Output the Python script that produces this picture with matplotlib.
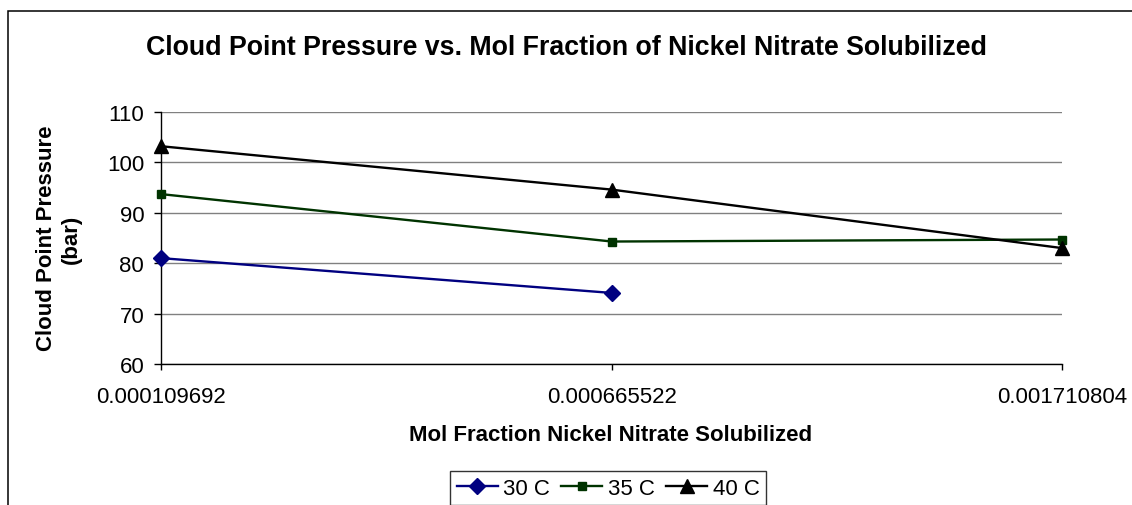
import matplotlib
matplotlib.use("Agg")
import matplotlib.pyplot as plt
from matplotlib.patches import Rectangle

categories = ["0.000109692", "0.000665522", "0.001710804"]
s30 = [81.0, 74.1]
s35 = [93.7, 84.3, 84.7]
s40 = [103.2, 94.6, 83.0]
series_labels = ["30 C", "35 C", "40 C"]
yticks = [60, 70, 80, 90, 100, 110]

plt.rcParams['font.family'] = ['Liberation Sans', 'DejaVu Sans']

W, H = 1132, 506
fig = plt.figure(figsize=(W / 100, H / 100), dpi=100)
fig.patch.set_facecolor('white')

# outer chart border (extends beyond right and bottom edges)
fig.patches.append(Rectangle((7.5 / W, -0.2), 1.2, 1 - 11.5 / H + 0.2,
                             transform=fig.transFigure, fill=False,
                             edgecolor='black', linewidth=1.1, zorder=0))

ax = fig.add_axes([161.5 / W, 1 - 365 / H, 900.5 / W, 252 / H])
x = list(range(len(categories)))

ax.plot(x[:len(s30)], s30, color='#000080', marker='D', markersize=8,
        linewidth=1.7, label=series_labels[0], clip_on=False, zorder=3)
ax.plot(x[:len(s35)], s35, color='#003300', marker='s', markersize=6,
        linewidth=1.7, label=series_labels[1], clip_on=False, zorder=3)
ax.plot(x[:len(s40)], s40, color='black', marker='^', markersize=10.5,
        linewidth=1.7, label=series_labels[2], clip_on=False, zorder=4)

ax.set_xlim(0, 2)
ax.set_ylim(60, 110)
ax.set_yticks(yticks)
ax.set_xticks(x)
ax.set_xticklabels(categories)
ax.yaxis.grid(True, color='#808080', linewidth=1.0)
ax.set_axisbelow(True)
for s in ['top', 'right']:
    ax.spines[s].set_visible(False)
for s in ['left', 'bottom']:
    ax.spines[s].set_color('black')
    ax.spines[s].set_linewidth(1.0)
ax.tick_params(axis='y', direction='out', length=5, width=1, pad=7.5, labelsize=16)
ax.tick_params(axis='x', direction='out', length=4.5, width=1, pad=11, labelsize=16)

fig.text(566 / W, 1 - 55 / H,
         "Cloud Point Pressure vs. Mol Fraction of Nickel Nitrate Solubilized",
         ha='center', va='baseline', fontsize=19.3, fontweight='bold')
fig.text(611 / W, 1 - 436 / H, "Mol Fraction Nickel Nitrate Solubilized",
         ha='center', va='center', fontsize=16, fontweight='bold')
fig.text(52 / W, 1 - 238.5 / H, "Cloud Point Pressure",
         ha='center', va='baseline', rotation=90, rotation_mode='anchor',
         fontsize=16, fontweight='bold')
fig.text(77 / W, 1 - 239 / H, "(bar)",
         ha='center', va='baseline', rotation=90, rotation_mode='anchor',
         fontsize=16, fontweight='bold')

leg = fig.legend(loc='upper left', bbox_to_anchor=(450 / W, 1 - 472 / H),
                 ncol=3, frameon=True, fancybox=False, fontsize=16,
                 handlelength=1.85, handletextpad=0.25, columnspacing=0.5,
                 borderpad=0.3, borderaxespad=0)
leg.get_frame().set_edgecolor('black')
leg.get_frame().set_linewidth(1.0)

fig.savefig("out.png", dpi=100)
